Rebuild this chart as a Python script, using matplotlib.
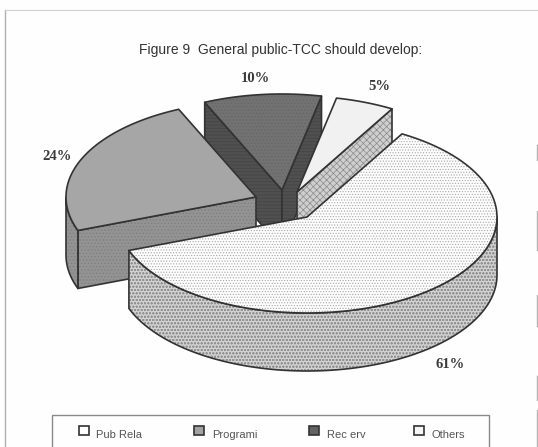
import numpy as np
import matplotlib
matplotlib.use("Agg")
import matplotlib.pyplot as plt
from matplotlib.patches import Polygon, Rectangle

# ---- data ----
categories = ["Pub Rela", "Programi", "Rec erv", "Others"]
values = [61, 24, 10, 5]
value_labels = ["61%", "24%", "10%", "5%"]
title = "Figure 9  General public-TCC should develop:"

# ---- layout (pixel coordinates) ----
W, H = 538, 447
CENTER = (307, 217)
RX, RY = 190, 96
DEPTH = 58
START_ANGLE = 60
offsets = [(0, 0), (-51, -20), (-25, -27), (-10, -25)]
label_xy = [(450, 365), (57, 156), (255, 79), (379, 87)]
top_style = [("#fdfdfd", "#a8a8a8", "......"), ("#a6a6a6", None, None),
             ("#727272", "#666666", "....."), ("#f1f1f1", None, None)]
side_style = [("#d2d2d2", "#929292", "ooooo"), ("#939393", "#7d7d7d", "....."),
              ("#505050", "#444444", "-----"), ("#cfcfcf", "#8a8a8a", "xxxxx")]
OUTLINE = "#333333"
draw_order = [2, 3, 1, 0]

plt.rcParams["hatch.linewidth"] = 0.5
fig = plt.figure(figsize=(W / 100, H / 100), dpi=100, facecolor="#fefefe")
ax = fig.add_axes([0, 0, 1, 1])
ax.set_xlim(0, W)
ax.set_ylim(H, 0)
ax.axis("off")


def face(pts, style):
    fc, hc, hatch = style
    if hatch:
        ax.add_patch(Polygon(pts, closed=True, facecolor=fc, edgecolor=hc, hatch=hatch, lw=0))
    else:
        ax.add_patch(Polygon(pts, closed=True, facecolor=fc, edgecolor="none"))
    ax.add_patch(Polygon(pts, closed=True, facecolor="none", edgecolor=OUTLINE, lw=1.2, joinstyle="round"))


# slice angles derived from the values, running clockwise
sweeps = np.array(values) / sum(values) * 360
ends = START_ANGLE - np.cumsum(sweeps)
starts = ends + sweeps


def rim(cx, cy, a0, a1, n=90):
    t = np.radians(np.linspace(a0, a1, n))
    return np.column_stack([cx + RX * np.cos(t), cy - RY * np.sin(t)])


for i in draw_order:
    cx, cy = CENTER[0] + offsets[i][0], CENTER[1] + offsets[i][1]
    a0, a1 = starts[i], ends[i]
    down = np.array([0, DEPTH])
    apex = np.array([cx, cy])
    # cut faces, when they look toward the viewer
    for ang, normal in ((a0, a0 + 90), (a1, a1 - 90)):
        if np.sin(np.radians(normal)) < 0:
            tip = rim(cx, cy, ang, ang, 1)[0]
            face([apex, tip, tip + down, apex + down], side_style[i])
    # outer wall: the front part of the rim only
    for shift in (-360, 0, 360):
        wall_lo, wall_hi = max(a1 + shift, -180), min(a0 + shift, 0)
        if wall_hi > wall_lo:
            arc = rim(cx, cy, wall_hi, wall_lo)
            face(np.vstack([arc, (arc + down)[::-1]]), side_style[i])
    # top face
    top = np.vstack([apex, rim(cx, cy, a0, a1)])
    face(top, top_style[i])

for txt, (x, y) in zip(value_labels, label_xy):
    ax.text(x, y, txt, ha="center", va="center", fontsize=10.5, fontweight="bold",
            family="Liberation Serif", color="#3a3a3a")

ax.text(281, 50, title, ha="center", va="center", fontsize=10,
        family="Liberation Sans", color="#333333")

# legend
ax.add_patch(Rectangle((52, 415), 437, 40, facecolor="none", edgecolor="#8a8a8a", lw=1))
legend_x = [84, 199, 314, 419]
legend_text_x = [96, 212, 327, 432]
legend_fc = ["#fdfdfd", "#a2a2a2", "#626262", "#f5f5f5"]
for name, mx, tx, fc in zip(categories, legend_x, legend_text_x, legend_fc):
    ax.add_patch(Rectangle((mx - 5, 426), 10, 9, facecolor=fc, edgecolor="#333333", lw=1.2))
    ax.text(tx, 435, name, ha="left", va="center", fontsize=8,
            family="Liberation Sans", color="#555555")

# page frame traces from the scan
ax.plot([5, 5], [10, 447], color="#b0b0b0", lw=1)
ax.plot([5, 538], [10, 10], color="#d0d0d0", lw=0.8)
for y0, y1 in [(145, 160), (211, 250), (295, 326), (376, 400), (410, 447)]:
    ax.plot([537, 537], [y0, y1], color="#b5b5b5", lw=1)

fig.savefig("out.png", dpi=100, facecolor=fig.get_facecolor())
